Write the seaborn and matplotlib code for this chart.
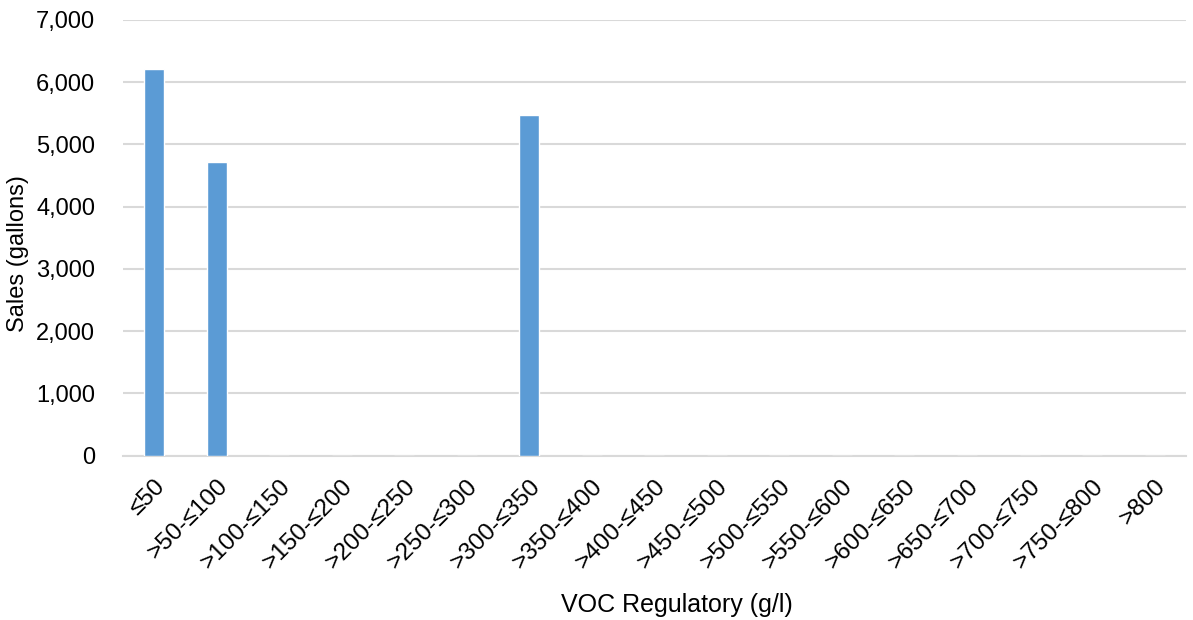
import pandas as pd
import seaborn as sns
import matplotlib.pyplot as plt
from matplotlib.ticker import FuncFormatter

categories = ["≤50", ">50-≤100", ">100-≤150", ">150-≤200", ">200-≤250",
              ">250-≤300", ">300-≤350", ">350-≤400", ">400-≤450", ">450-≤500",
              ">500-≤550", ">550-≤600", ">600-≤650", ">650-≤700", ">700-≤750",
              ">750-≤800", ">800"]
sales = [6210, 4720, 0, 0, 0, 0, 5470, 0, 0, 0, 0, 0, 0, 0, 0, 0, 0]

df = pd.DataFrame({"voc": categories, "sales": sales})

sns.set_theme(style="white")
plt.rcParams["font.family"] = ["Liberation Sans", "DejaVu Sans"]

fig, ax = plt.subplots(figsize=(11.93, 6.2), dpi=100)
fig.subplots_adjust(left=0.103, right=0.994, top=0.968, bottom=0.265)

sns.barplot(data=df, x="voc", y="sales", color="#5b9bd5", saturation=1,
            width=0.32, ax=ax, zorder=3)

ax.set_ylim(0, 7000)
ax.set_yticks(range(0, 7001, 1000))
ax.yaxis.set_major_formatter(FuncFormatter(lambda v, p: f"{int(v):,}"))
ax.grid(axis="y", color="#d9d9d9", linewidth=1.5, zorder=0)
ax.set_axisbelow(True)
for s in ["top", "right", "left"]:
    ax.spines[s].set_visible(False)
ax.spines["bottom"].set_color("#d9d9d9")
ax.spines["bottom"].set_linewidth(1.5)

ax.tick_params(axis="y", labelsize=17, colors="#000000", length=0, pad=20)
ax.tick_params(axis="x", labelsize=17.5, colors="#000000", length=0, pad=14)
plt.setp(ax.get_xticklabels(), rotation=45, ha="right", rotation_mode="anchor")
ax.set_xlabel("VOC Regulatory (g/l)", fontsize=18, color="#000000")
ax.xaxis.set_label_coords(0.521, -0.316)
ax.set_ylabel("Sales (gallons)", fontsize=17, color="#000000")
ax.yaxis.set_label_coords(-0.088, 0.463)

plt.savefig("out.png", dpi=100)
